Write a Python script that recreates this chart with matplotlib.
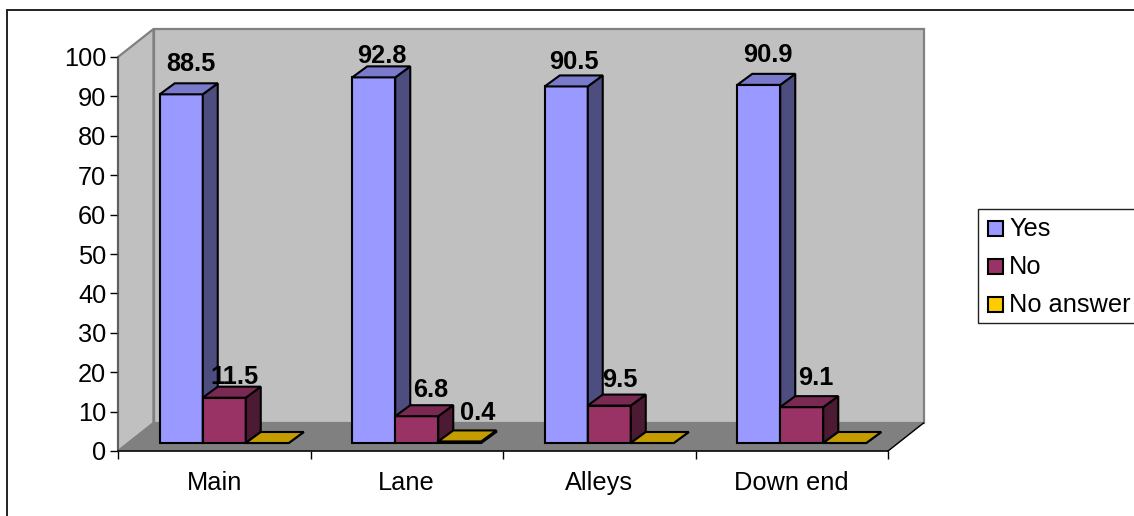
import matplotlib
matplotlib.use("Agg")
import matplotlib.pyplot as plt
from matplotlib.patches import Polygon, Rectangle

plt.rcParams['font.family'] = ['Liberation Sans', 'DejaVu Sans']

categories = ["Main", "Lane", "Alleys", "Down end"]
series_names = ["Yes", "No", "No answer"]
yes_values = [88.5, 92.8, 90.5, 90.9]
no_values = [11.5, 6.8, 9.5, 9.1]
noanswer_values = [0, 0.4, 0, 0]
y_ticks = [0, 10, 20, 30, 40, 50, 60, 70, 80, 90, 100]

# face, top, side
colors = [("#9999ff", "#7a7acc", "#4d4d80"),
          ("#993366", "#7a2952", "#4d1a33"),
          ("#ffcc00", "#c49c00", "#806600")]
# label offsets in pixels from the top front edge of each bar
label_off = [[(10, 30), (8, 21), (8, 24), (9, 30)],
             [(10, 21), (14, 26), (11, 26), (14, 29)],
             [(0, 0), (18, 28), (0, 0), (0, 0)]]

W, H = 1134, 516
FS = 18.3
fig = plt.figure(figsize=(W / 100, H / 100), dpi=100)
fig.patch.set_facecolor("white")

# outer frame, runs off the right and bottom edges
fig.add_artist(Rectangle((7 / W, -10 / H), 1140 / W, 516 / H, transform=fig.transFigure,
                         fill=False, edgecolor="#222222", lw=1.4))

left, right, top, bottom = 118, 888, 57, 451
ax = fig.add_axes([left / W, (H - bottom) / H, (right - left) / W, (bottom - top) / H])
ax.set_xlim(0, 4)
ax.set_ylim(0, 100)
ax.patch.set_visible(False)

px = 4 / (right - left)
py = 100 / (bottom - top)

# box depth
dx = 35.5 * px
dy = 28 * py
ax.add_patch(Polygon([(0, 0), (dx, dy), (dx, 100 + dy), (0, 100)], closed=True, fc="#c0c0c0",
                     ec="#808080", lw=1.6, clip_on=False, zorder=1))
ax.add_patch(Polygon([(dx, dy), (4 + dx, dy), (4 + dx, 100 + dy), (dx, 100 + dy)], closed=True,
                     fc="#c0c0c0", ec="#808080", lw=1.6, clip_on=False, zorder=1))
ax.add_patch(Polygon([(0, 0), (dx, dy), (4 + dx, dy), (4, 0)], closed=True, fc="#808080",
                     ec="#808080", lw=0.7, clip_on=False, zorder=2))
ax.plot([4, 4 + dx], [0, dy], color="black", lw=1, clip_on=False, zorder=2)

# bars
bar_w = 43 * px
bar_dx = 15 * px
bar_dy = 11 * py
shift_x = 10 * px
shift_y = 8 * py
all_values = [yes_values, no_values, noanswer_values]
for c in range(len(categories)):
    x0 = c + 0.5 + shift_x - 1.5 * bar_w
    for s, vals in enumerate(all_values):
        v = vals[c]
        xl = x0 + s * bar_w
        xr = xl + bar_w
        y0 = shift_y
        y1 = shift_y + v
        face, topc, side = colors[s]
        ax.add_patch(Polygon([(xl, y0), (xr, y0), (xr, y1), (xl, y1)], closed=True, fc=face,
                             ec="black", lw=1.5, clip_on=False, zorder=3 + s))
        ax.add_patch(Polygon([(xr, y0), (xr + bar_dx, y0 + bar_dy), (xr + bar_dx, y1 + bar_dy), (xr, y1)],
                             closed=True, fc=side, ec="black", lw=1.5, clip_on=False, zorder=3 + s))
        ax.add_patch(Polygon([(xl, y1), (xr, y1), (xr + bar_dx, y1 + bar_dy), (xl + bar_dx, y1 + bar_dy)],
                             closed=True, fc=topc, ec="black", lw=1.5, clip_on=False, zorder=3 + s))
        if v > 0:
            ax.annotate("%.1f" % v, xy=(xl + bar_w / 2, y1), xytext=label_off[s][c],
                        textcoords="offset pixels", ha="center", va="center",
                        fontsize=FS, fontweight="bold", color="black", zorder=10,
                        annotation_clip=False)

for sp in ["top", "right"]:
    ax.spines[sp].set_visible(False)
ax.spines["left"].set_linewidth(1.1)
ax.spines["left"].set_color("#555555")
ax.spines["bottom"].set_linewidth(1.1)
ax.spines["left"].set_zorder(6)
ax.spines["bottom"].set_zorder(6)

ax.set_yticks(y_ticks)
ax.tick_params(axis="y", length=5.8, width=1, labelsize=FS, pad=2.6)
ax.set_xticks([0, 1, 2, 3, 4])
ax.set_xticklabels([])
ax.set_xticks([0.5, 1.5, 2.5, 3.5], minor=True)
ax.set_xticklabels(categories, minor=True)
ax.tick_params(axis="x", which="major", length=6, width=1)
ax.tick_params(axis="x", which="minor", length=0, labelsize=FS, pad=14.5)

# legend
lx0, ly0, lx1, ly1 = 978, 209, 1140, 323
fig.add_artist(Rectangle((lx0 / W, (H - ly1) / H), (lx1 - lx0) / W, (ly1 - ly0) / H,
                         transform=fig.transFigure, fc="white", ec="#222222", lw=1))
for i, name in enumerate(series_names):
    cy = 228.5 + i * 38
    fig.add_artist(Rectangle((987.5 / W, (H - cy - 7.5) / H), 15 / W, 15 / H, transform=fig.transFigure,
                             fc=colors[i][0], ec="black", lw=1.5))
    fig.text(1009 / W, (H - cy - 1) / H, name, fontsize=FS, va="center", ha="left")

fig.savefig("out.png", dpi=100)
